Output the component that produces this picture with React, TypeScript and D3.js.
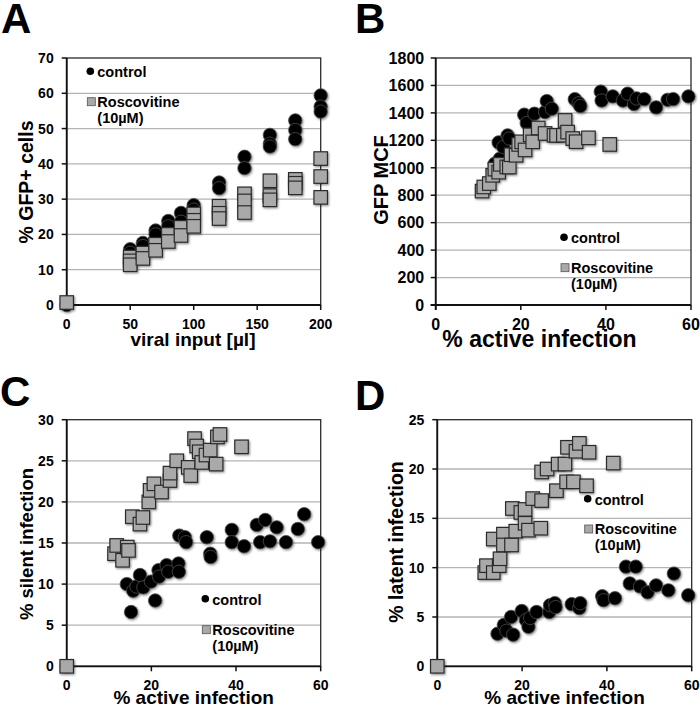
import React from "react";
import * as d3 from "d3";

type P = [number, number];

// ---------- Panel A: % GFP+ cells vs viral input ----------
const aControl: P[] = [
  [0, 0], [50, 15.8], [50, 14.8], [60, 17.6], [60, 16.7], [70, 21.1], [70, 20],
  [80, 23.8], [80, 22.3], [90, 26.1], [90, 23.6], [100, 28.3], [100, 27],
  [120, 34.7], [120, 33.1], [140, 42], [140, 38.8], [160, 48.2], [160, 45.7], [160, 44.9],
  [180, 52.3], [180, 49.6], [180, 47], [200, 59.4], [200, 56.2], [200, 54.8],
];
const aRosco: P[] = [
  [0, 0.7], [50, 13.6], [50, 12.5], [50, 11.4], [60, 14.7], [60, 13.2], [70, 17.2], [70, 15.5],
  [80, 20], [80, 18], [90, 22], [90, 19.7], [100, 25.8], [100, 24], [100, 22.3],
  [120, 28], [120, 26], [120, 24.5], [140, 31.5], [140, 29.5], [140, 26.2],
  [160, 35.2], [160, 31], [160, 29.8], [180, 35.6], [180, 34.5], [180, 33.2],
  [200, 41.5], [200, 36.4], [200, 30.5],
];
const aXTicks = [0, 50, 100, 150, 200];
const aYTicks = [0, 10, 20, 30, 40, 50, 60, 70];

// ---------- Panel B: GFP MCF vs % active infection ----------
const bControl: P[] = [
  [13.9, 1030], [14.8, 1185], [15.1, 1067], [15.9, 1151], [16.9, 1236], [17.3, 1213],
  [20.8, 1387], [21.4, 1326], [23.2, 1394], [25.7, 1406], [26.1, 1486], [27.3, 1430],
  [32.7, 1500], [33.6, 1470], [34, 1450], [38.8, 1555], [39, 1490], [41.6, 1520],
  [44, 1490], [45.1, 1540], [46.6, 1465], [47.2, 1505], [49, 1500], [51.8, 1440],
  [54.5, 1495], [55.8, 1500], [59.4, 1520],
];
const bRosco: P[] = [
  [10.9, 830], [11.3, 860], [12.6, 885], [13.4, 945], [13.9, 990], [14.8, 968], [15.2, 1025],
  [16.7, 1006], [17.3, 1005], [17.7, 1095], [18.9, 1091], [19.5, 1170], [20.2, 1189],
  [21, 1130], [22.2, 1240], [22.8, 1189], [24.1, 1290], [25.7, 1250], [27.8, 1237],
  [28.4, 1236], [30, 1237], [30.4, 1345], [31, 1260], [32.2, 1213], [33, 1190],
  [35.9, 1218], [40.9, 1170],
];
const bXTicks = [0, 20, 40, 60];
const bYTicks = [0, 200, 400, 600, 800, 1000, 1200, 1400, 1600, 1800];

// ---------- Panel C: % silent infection vs % active infection ----------
const cControl: P[] = [
  [0, 0], [14.2, 10], [15.2, 6.6], [15.7, 9.2], [16.5, 9.7], [17.3, 11.1], [18.1, 9.6],
  [19.9, 10.3], [20.9, 8], [21.7, 11.7], [21.8, 10.9], [23.6, 12.3], [24, 11.5],
  [26.4, 12.5], [26.5, 11.5], [26.6, 15.9], [27.9, 15.7], [28.2, 15.1], [33.1, 15.7],
  [33.9, 13.7], [34, 13.3], [39, 16.6], [39, 15.1], [41.9, 14.6], [44.9, 17.2],
  [45.7, 15.1], [46.9, 17.8], [48, 15.2], [49.6, 16.9], [51.8, 15.1], [54.6, 16.7],
  [56.1, 18.5], [59.4, 15.1],
];
const cRosco: P[] = [
  [0, 0], [11.3, 13.7], [11.8, 14.7], [13.2, 12.9], [14.3, 14.5], [14.6, 14.1], [15.5, 18.2],
  [17.3, 17.3], [18, 18.1], [19.4, 20], [19.7, 21.4], [20.6, 22.2], [22.4, 21.2],
  [24.4, 22.6], [24.4, 23.5], [26, 25], [28.7, 24.2], [29.3, 23.2], [30.2, 27.7],
  [30.7, 26.8], [31.3, 26.1], [31.9, 24.8], [32.9, 25.7], [33.9, 26.3], [35.3, 24.6],
  [35.6, 27.9], [36.2, 28.2], [41.3, 26.7],
];
const cXTicks = [0, 20, 40, 60];
const cYTicks = [0, 5, 10, 15, 20, 25, 30];

// ---------- Panel D: % latent infection vs % active infection ----------
const dControl: P[] = [
  [0, 0], [14.2, 3.3], [15.7, 4.2], [16.3, 3.6], [17.4, 5], [17.9, 3.2], [19.9, 5.6],
  [20.9, 4.7], [21.5, 4], [21.9, 4.9], [23.4, 5.5], [26.4, 5.5], [26.6, 6.2],
  [27.7, 6.4], [27.9, 6], [31.7, 6.3], [33.5, 5.9], [33.7, 6.4], [38.9, 7.1],
  [39.2, 6.7], [41.9, 6.9], [44.5, 10.1], [45.4, 8.4], [46.8, 10.1], [47.8, 8.1],
  [49.6, 7.5], [51.6, 8.2], [54.5, 7.7], [55.8, 9.4], [59.2, 7.2],
];
const dRosco: P[] = [
  [0, 0], [11.2, 9.5], [11.6, 10.2], [13.2, 9.5], [13.2, 12.9], [14.6, 10.2], [14.8, 10.9],
  [15.6, 13.4], [15.6, 12.3], [17.5, 12.3], [17.7, 16], [18.5, 13.7], [19.7, 15.6],
  [20.7, 15.9], [20.7, 14.5], [21.5, 13.8], [22.5, 17], [24.4, 14], [24.6, 19.7],
  [24.6, 16.8], [25.9, 20], [28.1, 17.8], [28.5, 20.5], [30.1, 20.5], [30.5, 18.7],
  [30.7, 22.2], [32.1, 18.7], [32.7, 21.8], [33.5, 22.6], [35.2, 18.3], [35.8, 21.7],
  [41.5, 20.6],
];
const dXTicks = [0, 20, 40, 60];
const dYTicks = [0, 5, 10, 15, 20, 25];

const seriesNames = ["control", "Roscovitine", "(10µM)"];

const FONT = "'Liberation Sans', Arial, Helvetica, sans-serif";

interface PanelProps {
  letter: string;
  letterX: number;
  letterY: number;
  left: number;
  right: number;
  top: number;
  bottom: number;
  xTicks: number[];
  yTicks: number[];
  control: P[];
  rosco: P[];
  xTitle: string;
  yTitle: string;
  xTitleX: number;
  xTitleY: number;
  xTitleSize: number;
  yTitleX: number;
  yTitleY: number;
  yTitleSize: number;
  tickSize: number;
  xTickY: number;
  yTickGap: number;
  legX: number;
  legY1: number;
  legY2: number;
}

function Panel(p: PanelProps) {
  const x = d3.scaleLinear().domain(d3.extent(p.xTicks) as [number, number]).range([p.left, p.right]);
  const y = d3.scaleLinear().domain(d3.extent(p.yTicks) as [number, number]).range([p.bottom, p.top]);
  const sq = 13.5;
  const r = 6.7;
  return (
    <g>
      <text x={p.letterX} y={p.letterY} fontSize={42} fontWeight="bold" fontFamily={FONT} fill="#000">
        {p.letter}
      </text>
      {p.yTicks.slice(1, -1).map((t) => (
        <line key={"g" + t} x1={p.left} x2={p.right} y1={y(t)} y2={y(t)} stroke="#b4b4b4" strokeWidth={1.3} />
      ))}
      <rect x={p.left} y={p.top} width={p.right - p.left} height={p.bottom - p.top} fill="none" stroke="#2a2a2a" strokeWidth={1.3} />
      <line x1={p.left} x2={p.left} y1={p.top} y2={p.bottom + 5} stroke="#111" strokeWidth={1.8} />
      <line x1={p.left - 5} x2={p.right} y1={p.bottom} y2={p.bottom} stroke="#111" strokeWidth={1.8} />
      {p.yTicks.map((t) => (
        <g key={"y" + t}>
          <line x1={p.left - 5} x2={p.left} y1={y(t)} y2={y(t)} stroke="#111" strokeWidth={1.5} />
          <text x={p.left - p.yTickGap} y={y(t)} dy="0.36em" textAnchor="end" fontSize={p.tickSize} fontWeight="bold" fontFamily={FONT}>
            {t}
          </text>
        </g>
      ))}
      {p.xTicks.map((t) => (
        <g key={"x" + t}>
          <line x1={x(t)} x2={x(t)} y1={p.bottom} y2={p.bottom + 5} stroke="#111" strokeWidth={1.5} />
          <text x={x(t)} y={p.xTickY} textAnchor="middle" fontSize={p.tickSize} fontWeight="bold" fontFamily={FONT}>
            {t}
          </text>
        </g>
      ))}
      <text x={p.xTitleX} y={p.xTitleY} textAnchor="middle" fontSize={p.xTitleSize} fontWeight="bold" fontFamily={FONT}>
        {p.xTitle}
      </text>
      <text
        transform={`translate(${p.yTitleX},${p.yTitleY}) rotate(-90)`}
        textAnchor="middle"
        fontSize={p.yTitleSize}
        fontWeight="bold"
        fontFamily={FONT}
      >
        {p.yTitle}
      </text>
      <g filter="url(#shadow)">
        {p.control.map((d, i) => (
          <circle key={"c" + i} cx={x(d[0])} cy={y(d[1])} r={r} fill="#030303" stroke="#4a4a4a" strokeWidth={0.8} />
        ))}
        {p.rosco.map((d, i) => (
          <rect
            key={"r" + i}
            x={x(d[0]) - sq / 2}
            y={y(d[1]) - sq / 2}
            width={sq}
            height={sq}
            fill="#a9a9a9"
            stroke="#2b2b2b"
            strokeWidth={1.2}
          />
        ))}
      </g>
      {/* legend */}
      <circle cx={p.legX - 7} cy={p.legY1 - 6} r={3.8} fill="#000" />
      <text x={p.legX} y={p.legY1} fontSize={14.5} fontWeight="bold" fontFamily={FONT}>
        {seriesNames[0]}
      </text>
      <rect x={p.legX - 10} y={p.legY2 - 9} width={8} height={8} fill="#a9a9a9" stroke="#555" strokeWidth={0.8} />
      <text x={p.legX} y={p.legY2} fontSize={14.5} fontWeight="bold" fontFamily={FONT}>
        {seriesNames[1]}
      </text>
      <text x={p.legX} y={p.legY2 + 16.3} fontSize={14.5} fontWeight="bold" fontFamily={FONT}>
        {seriesNames[2]}
      </text>
    </g>
  );
}

export default function App() {
  return (
    <svg
      width={700}
      height={714}
      style={{ position: "absolute", left: 0, top: 0, background: "#fff" }}
      xmlns="http://www.w3.org/2000/svg"
    >
      <defs>
        <filter id="shadow" x="-20%" y="-20%" width="140%" height="140%">
          <feDropShadow dx={1} dy={1.2} stdDeviation={1} floodColor="#000" floodOpacity={0.45} />
        </filter>
      </defs>
      <rect x={0} y={0} width={700} height={714} fill="#fff" />
      <Panel
        letter="A" letterX={1} letterY={33}
        left={66.7} right={320.7} top={58} bottom={305}
        xTicks={aXTicks} yTicks={aYTicks} control={aControl} rosco={aRosco}
        xTitle="viral input [µl]" yTitle="% GFP+ cells"
        xTitleX={193} xTitleY={346} xTitleSize={19}
        yTitleX={33} yTitleY={182} yTitleSize={19.5}
        tickSize={14} xTickY={329} yTickGap={13}
        legX={97.3} legY1={77.3} legY2={106.7}
      />
      <Panel
        letter="B" letterX={355} letterY={33}
        left={435.7} right={691} top={58} bottom={305}
        xTicks={bXTicks} yTicks={bYTicks} control={bControl} rosco={bRosco}
        xTitle="% active infection" yTitle="GFP MCF"
        xTitleX={539.5} xTitleY={347} xTitleSize={23}
        yTitleX={388} yTitleY={180} yTitleSize={20}
        tickSize={16} xTickY={330} yTickGap={11.5}
        legX={571} legY1={243.3} legY2={272.7}
      />
      <Panel
        letter="C" letterX={0} letterY={406}
        left={66.7} right={320.7} top={419.7} bottom={666.3}
        xTicks={cXTicks} yTicks={cYTicks} control={cControl} rosco={cRosco}
        xTitle="% active infection" yTitle="% silent infection"
        xTitleX={193.7} xTitleY={704} xTitleSize={19}
        yTitleX={33} yTitleY={544} yTitleSize={18.5}
        tickSize={14} xTickY={690} yTickGap={13}
        legX={212.3} legY1={604.7} legY2={634.7}
      />
      <Panel
        letter="D" letterX={355} letterY={410}
        left={437.3} right={691.7} top={419.7} bottom={666.3}
        xTicks={dXTicks} yTicks={dYTicks} control={dControl} rosco={dRosco}
        xTitle="% active infection" yTitle="% latent infection"
        xTitleX={564.5} xTitleY={704} xTitleSize={19}
        yTitleX={403} yTitleY={542} yTitleSize={19.5}
        tickSize={14} xTickY={690} yTickGap={13}
        legX={594.7} legY1={504.7} legY2={534}
      />
    </svg>
  );
}
